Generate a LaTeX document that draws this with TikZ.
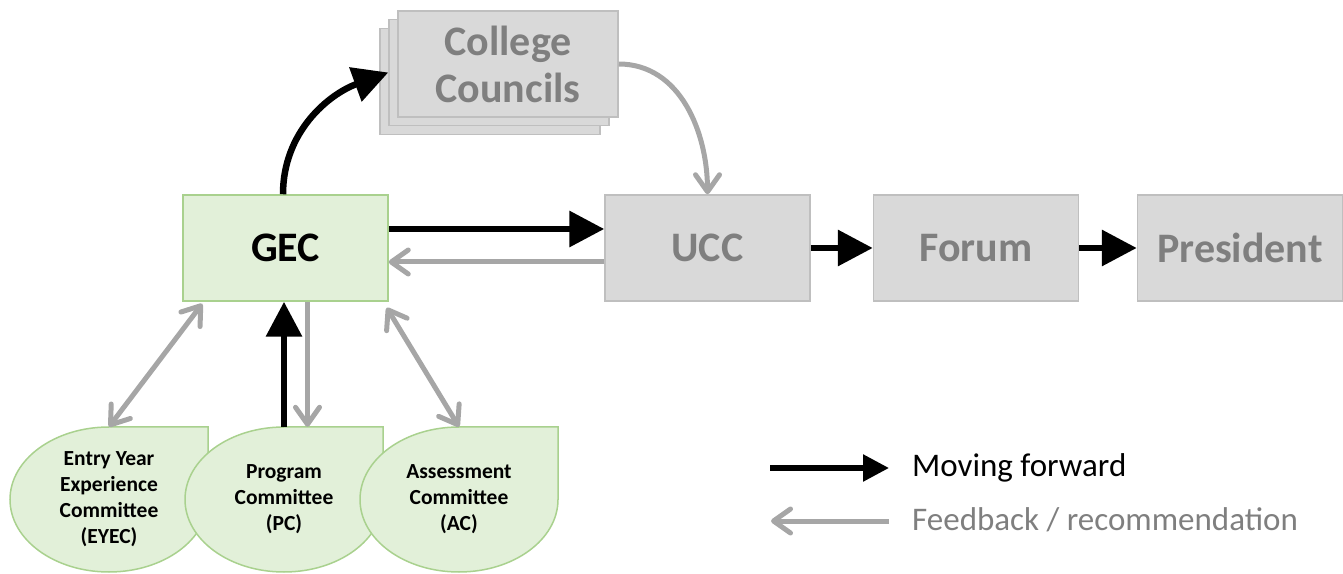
\documentclass[tikz,border=0pt]{standalone}
\usepackage{fontspec}
\setmainfont{Carlito}
\usetikzlibrary{arrows.meta}
\definecolor{gfill}{HTML}{E2F0D9}
\definecolor{gline}{HTML}{A9D18E}
\definecolor{bfill}{HTML}{D9D9D9}
\definecolor{bline}{HTML}{BFBFBF}
\definecolor{btext}{HTML}{7F7F7F}
\definecolor{farrow}{HTML}{A6A6A6}
\newcommand\teardrop[2]{%
  \draw[draw=gline, fill=gfill, line width=1.5pt]
    (#1,#2+72.5) -- (#1+99,#2+72.5) -- (#1+99,#2)
    arc[start angle=0, end angle=-270, x radius=99, y radius=72.5] -- cycle;}
\begin{document}
\begin{tikzpicture}[x=1pt,y=1pt,
  greenbox/.style={draw=gline, fill=gfill, line width=1.5pt, minimum width=205pt,
    minimum height=106pt, inner sep=0pt, font=\fontsize{42}{47}\selectfont\bfseries},
  graybox/.style={draw=bline, fill=bfill, line width=1.5pt, minimum width=205pt,
    minimum height=106pt, inner sep=0pt, text=btext, align=center,
    font=\fontsize{42}{47}\selectfont\bfseries},
  ccbox/.style={graybox, minimum width=220pt},
  comm/.style={minimum width=198pt, minimum height=145pt, inner sep=0pt, align=center,
    font=\fontsize{21.5}{26}\selectfont\bfseries},
  fwd/.style={line width=6.5pt, -{Triangle[length=35pt,width=35pt]}},
  fwdleg/.style={line width=5.5pt, -{Triangle[length=26pt,width=26pt]}},
  barb/.tip={Straight Barb[length=17pt,width=24pt,round]},
  back/.style={draw=farrow, line width=5pt, -barb},
  backboth/.style={draw=farrow, line width=5pt, barb-barb},
  legtext/.style={anchor=base west, inner sep=0pt, font=\fontsize{33}{38}\selectfont},
]
\useasboundingbox (0,0) rectangle (1343,573);

% main boxes
\node[greenbox] (GEC) at (285.5,325) {GEC};
\node[graybox] (UCC) at (707.5,325) {UCC};
\node[graybox] (Forum) at (976,325) {Forum};
\node[graybox] (Pres) at (1240,325) {President};

% college councils stack
\node[ccbox] (cc3) at (490,491.5) {};
\node[ccbox] (cc2) at (499,500.5) {};
\node[ccbox] (cc1) at (508,509) {College\\Councils};

% committees
\teardrop{109}{73.5}
\node[comm] (eyec) at (109,73.5) {Entry Year\\Experience\\Committee\\(EYEC)};
\teardrop{284}{73.5}
\node[comm] (pc) at (284,73.5) {Program\\Committee\\(PC)};
\teardrop{459}{73.5}
\node[comm] (ac) at (459,73.5) {Assessment\\Committee\\(AC)};

% forward arrows
\draw[fwd] ([yshift=19pt]GEC.east) -- ([yshift=19pt]UCC.west);
\draw[fwd] (UCC.east) -- (Forum.west);
\draw[fwd] (Forum.east) -- (Pres.west);
\draw[fwd] ([xshift=-2.5pt]GEC.north) to[out=90,in=200] (cc2.west);
\draw[fwd] (pc.north) -- (pc.north |- GEC.south);

% feedback arrows
\draw[back] ([yshift=-14pt]UCC.west) -- ([yshift=-14pt]GEC.east);
\draw[back] (cc1.east) to[out=0,in=90] (UCC.north);
\draw[back] ([xshift=22pt]GEC.south) -- ([xshift=22pt]GEC.south |- pc.north);
\draw[backboth] ([xshift=20pt,yshift=-2pt]GEC.south west) -- (eyec.north);
\draw[backboth] ([xshift=-2pt,yshift=-6pt]GEC.south east) -- (ac.north);

% legend
\coordinate (l1s) at (770,105);
\coordinate (l1e) at (889,105);
\draw[fwdleg] (l1s) -- (l1e);
\node[legtext] (lt1) at (912,96) {Moving forward};
\coordinate (l2s) at (889,52);
\coordinate (l2e) at (771,52);
\draw[back] (l2s) -- (l2e);
\node[legtext, text=btext] (lt2) at (912,43) {Feedback / recommendation};
\end{tikzpicture}
\end{document}
